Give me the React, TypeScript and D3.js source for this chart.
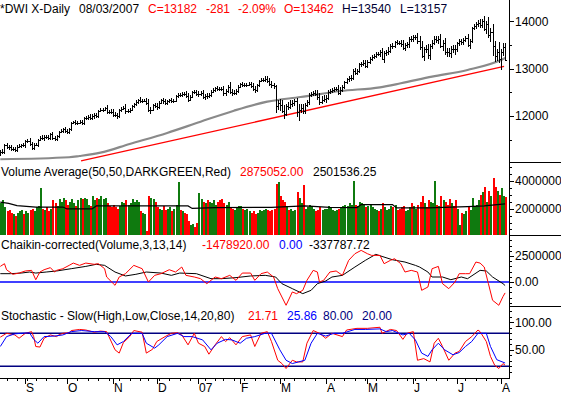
import React from 'react';
import * as d3 from 'd3';

// trading calendar (Aug 16 2006 .. Aug 3 2007)
const startDate = '2006-08-16';
const endDate = '2007-08-03';
const holidays = ['2006-09-04', '2006-11-23', '2006-12-25', '2007-01-01', '2007-01-02',
  '2007-01-15', '2007-02-19', '2007-04-06', '2007-05-28', '2007-07-04'];
const monthLabels = ['S', 'O', 'N', 'D', '07', 'F', 'M', 'A', 'M', 'J', 'J', 'A'];

// daily closes
const closes = [
  11230, 11237, 11382, 11345, 11339, 11297, 11303, 11284, 11352, 11370, 11382, 11381,
  11464, 11469, 11406, 11331, 11392, 11396, 11498, 11543, 11527, 11560, 11555, 11541, 11613, 11533, 11508, 11576, 11669, 11689, 11718, 11679,
  11670, 11727, 11850, 11866, 11850, 11858, 11867, 11852, 11947, 11960, 11981, 11950, 11992, 12011, 12002, 12116, 12127, 12134, 12163, 12090, 12086, 12081,
  12031, 12018, 12001, 12120, 12152, 12176, 12103, 12108, 12131, 12218, 12251, 12305, 12342, 12316, 12321, 12326, 12280, 12121, 12136, 12227, 12221,
  12194, 12283, 12331, 12309, 12278, 12307, 12329, 12315, 12318, 12416, 12446, 12441, 12471, 12463, 12421, 12343, 12407, 12510, 12501, 12463,
  12474, 12481, 12398, 12423, 12416, 12442, 12514, 12556, 12582, 12577, 12567, 12565, 12477, 12533, 12621, 12502, 12487, 12490, 12523, 12622,
  12673, 12653, 12661, 12666, 12667, 12637, 12580, 12552, 12654, 12741, 12765, 12767, 12786, 12738, 12686, 12647, 12632, 12216, 12268,
  12234, 12114, 12050, 12207, 12192, 12260, 12276, 12318, 12075, 12133, 12159, 12110, 12226, 12288, 12447, 12461, 12481, 12469, 12397, 12300, 12348, 12354,
  12383, 12511, 12531, 12560, 12569, 12573, 12484, 12553, 12612, 12720, 12773, 12803, 12808, 12961, 12919, 12953, 13090, 13105, 13120, 13063,
  13136, 13212, 13241, 13265, 13312, 13309, 13362, 13215, 13327, 13346, 13383, 13487, 13476, 13556, 13542, 13539, 13522, 13441, 13507, 13521, 13633, 13628,
  13668, 13677, 13596, 13467, 13267, 13425, 13424, 13295, 13483, 13553, 13639, 13612, 13635, 13489, 13545, 13360, 13352, 13337, 13427, 13422, 13409,
  13535, 13577, 13565, 13611, 13650, 13502, 13577, 13862, 13908, 13951, 13972, 13918, 14000, 13851, 13943, 13716, 13785, 13473, 13265, 13358, 13212,
  13362, 13463, 13182,
];
const firstOpen = 11200;

// how far the high / low reach past the open-close body
const wickUp = [
  45, 60, 30, 50, 40, 55, 35, 40, 30, 45, 35, 50,
  30, 45, 55, 50, 35, 40, 25, 35, 50, 30, 45, 40, 30, 55, 45, 25, 20, 35, 30, 50,
  40, 25, 20, 35, 45, 30, 40, 50, 25, 30, 35, 60, 40, 45, 50, 20, 35, 30, 25, 60, 45, 55,
  60, 50, 55, 30, 35, 40, 70, 45, 40, 25, 30, 35, 25, 50, 40, 35, 45, 80, 60, 35, 45,
  55, 30, 35, 45, 50, 35, 40, 45, 50, 25, 40, 50, 35, 45, 60, 70, 40, 25, 45, 55,
  60, 45, 70, 45, 55, 40, 30, 35, 40, 50, 45, 55, 70, 40, 35, 95, 60, 50, 45, 30,
  35, 45, 40, 35, 45, 55, 60, 50, 30, 30, 45, 40, 50, 60, 70, 55, 45, 20, 70,
  90, 110, 120, 40, 80, 70, 60, 50, 60, 120, 90, 100, 50, 60, 40, 50, 45, 60, 80, 90, 70, 80,
  60, 30, 45, 40, 50, 45, 80, 50, 40, 30, 40, 45, 55, 30, 60, 50, 40, 45, 55, 70,
  40, 35, 40, 45, 35, 50, 40, 80, 50, 60, 70, 40, 55, 35, 60, 55, 70, 80, 40, 50, 35, 60,
  50, 45, 70, 90, 120, 40, 70, 110, 40, 45, 50, 60, 50, 90, 60, 110, 80, 90, 50, 70, 80,
  40, 45, 50, 40, 45, 90, 60, 30, 40, 45, 50, 80, 50, 120, 60, 150, 70, 160, 120, 60, 210,
  60, 80, 78,
];
const wickDown = [
  40, 35, 50, 45, 55, 40, 35, 50, 45, 30, 40, 45,
  50, 40, 35, 45, 50, 35, 45, 30, 40, 50, 35, 45, 50, 40, 35, 45, 50, 30, 40, 35,
  45, 50, 35, 30, 40, 45, 35, 40, 50, 30, 45, 40, 35, 50, 45, 40, 30, 45, 35, 50, 40, 45,
  50, 45, 60, 35, 40, 30, 55, 45, 50, 35, 40, 30, 45, 35, 40, 35, 40, 30, 75, 40, 50,
  60, 40, 35, 45, 40, 50, 35, 45, 40, 30, 35, 45, 40, 35, 50, 45, 30, 35, 40, 45,
  70, 50, 45, 60, 50, 40, 35, 30, 45, 50, 40, 35, 50, 55, 40, 35, 60, 50, 45, 40,
  40, 45, 35, 40, 30, 45, 50, 60, 40, 35, 30, 45, 40, 45, 50, 55, 60, 160, 90,
  120, 60, 110, 60, 70, 50, 80, 60, 90, 190, 80, 70, 60, 45, 50, 55, 40, 50, 60, 70, 55, 60,
  80, 40, 50, 45, 55, 50, 40, 45, 50, 35, 40, 45, 55, 40, 50, 60, 35, 45, 40, 50,
  45, 40, 50, 35, 40, 45, 50, 40, 90, 60, 50, 45, 60, 40, 50, 45, 55, 50, 70, 60, 80, 55,
  70, 60, 80, 70, 40, 110, 90, 80, 100, 70, 60, 70, 80, 50, 120, 60, 110, 90, 100, 80, 110,
  60, 50, 60, 70, 55, 50, 80, 40, 50, 60, 70, 60, 60, 50, 110, 70, 140, 210, 120, 100, 80,
  230, 90, 25,
];

// daily volume, millions
const volumes = [
  2.4, 2.6, 2.1, 1.8, 1.9, 1.7, 1.6, 1.5, 1.7, 1.8, 1.9, 1.6,
  1.8, 1.7, 1.9, 2.0, 1.8, 2.1, 2.2, 3.5, 2.0, 1.9, 2.1, 1.8, 2.0, 2.6, 2.4, 2.2, 2.7, 2.5, 2.8, 2.6,
  2.3, 2.5, 2.7, 2.4, 2.2, 2.6, 2.8, 2.7, 2.8, 2.7, 2.3, 2.2, 2.9, 2.6, 2.8, 2.7, 2.9, 2.7, 2.8, 2.4, 2.2, 2.1,
  2.3, 2.1, 2.0, 2.2, 2.5, 2.4, 2.6, 2.3, 2.4, 2.7, 2.5, 2.6, 2.5, 1.8, 1.7, 1.6, 0.4, 2.9, 2.8, 2.7, 2.5,
  2.1, 2.0, 1.9, 2.2, 1.9, 2.0, 2.1, 1.8, 2.0, 2.3, 3.9, 1.9, 1.8, 1.7, 1.6, 1.1, 0.8, 0.9, 0.7, 1.0,
  3.1, 2.7, 2.5, 2.4, 2.6, 2.5, 2.4, 2.6, 2.3, 2.5, 2.6, 2.7, 2.4, 2.3, 2.5, 2.1, 2.0, 1.9, 2.1, 2.2,
  2.2, 2.0, 1.9, 2.0, 1.8, 1.7, 1.8, 1.6, 1.7, 1.9, 1.8, 1.9, 2.0, 1.9, 1.8, 1.9, 2.0, 3.8, 3.9,
  2.9, 2.6, 2.5, 2.2, 1.9, 2.0, 1.8, 1.9, 3.2, 2.8, 2.4, 3.7, 2.0, 2.1, 2.3, 2.2, 2.0, 1.8, 1.9, 2.1, 1.9, 2.0,
  2.0, 2.2, 2.1, 1.9, 1.8, 1.9, 2.0, 2.1, 2.2, 2.3, 2.2, 2.4, 2.3, 4.0, 2.3, 2.2, 2.5, 2.4, 2.3, 2.1,
  2.2, 2.3, 2.1, 2.0, 1.9, 1.8, 2.0, 2.4, 2.1, 1.9, 2.0, 2.2, 2.1, 2.3, 1.9, 2.0, 2.1, 2.2, 1.8, 1.9, 2.1, 2.4,
  2.2, 2.0, 2.3, 2.5, 2.9, 2.4, 2.1, 2.6, 2.5, 2.4, 4.0, 2.3, 2.2, 2.9, 2.6, 2.5, 2.3, 2.7, 2.4, 2.2, 2.6,
  2.0, 0.8, 1.7, 1.6, 1.8, 2.2, 1.9, 2.8, 2.2, 2.3, 2.6, 3.0, 3.2, 3.6, 2.5, 3.3, 2.9, 4.2, 3.6, 3.3, 3.0,
  3.5, 2.9, 2.875,
];

// [day index, value]
const movingAvg: [number, number][] = [[0, 11084], [33, 11126], [38, 11153], [48, 11223], [62, 11407], [80, 11640],
  [96, 11879], [112, 12112], [128, 12303], [144, 12402], [163, 12529], [182, 12607], [192, 12692], [207, 12832],
  [224, 12974], [240, 13185], [242, 13228]];
const trendLine: [number, number][] = [[38.7, 11048], [241.5, 13052]];
const volAvg: [number, number][] = [[0, 2.48], [4, 2.38], [8, 2.22], [17, 2.12], [30, 2.12], [32, 1.98], [44, 1.98],
  [46, 2.2], [68, 2.2], [90, 2.2], [92, 2.02], [103, 2.08], [130, 2.1], [146, 2.2], [158, 2.1], [171, 2.08],
  [173, 2.3], [188, 2.3], [190, 2.06], [205, 2.06], [224, 2.15], [232, 2.2], [242, 2.35]];

// Chaikin, millions
const chaikinOsc: [number, number][] = [[0, 1.5], [2, 1.76], [3, 1.18], [6, 0.74], [9, 0.86], [12, 1.06], [15, 1.12],
  [17, 0.22], [19, 0.96], [21, 1.18], [24, 1.38], [26, 0.96], [27, 1.12], [30, 1.28], [33, 1.6], [35, 1.82],
  [38, 1.6], [41, 1.82], [45, 1.7], [47, 1.76], [50, 1.28], [51, 0.48], [55, -0.32], [57, 0.48], [60, 0.8],
  [64, 1.6], [68, 1.28], [71, 0], [74, 0.64], [77, 0.8], [81, 1.18], [84, 0.96], [87, 1.44], [89, 0.64],
  [93, 0.48], [96, 0.32], [99, -0.16], [103, 0.48], [106, 0.32], [110, 0.64], [113, 0.16], [116, 0.86],
  [120, 0.86], [122, 0.16], [125, 0.8], [128, 0.96], [131, 0.48], [133, -0.64], [135, -1.44], [137, -2.24],
  [140, -0.96], [142, -1.12], [145, -0.8], [147, 0.16], [150, 1.12], [152, 0.96], [153, 0], [155, 0.16],
  [158, 0.96], [161, 1.06], [164, 0.64], [167, 2.08], [170, 2.72], [173, 3.04], [176, 2.72], [178, 2.56],
  [182, 2.56], [184, 1.76], [187, 2.08], [189, 2.24], [192, 1.76], [194, 0.96], [197, 1.12], [200, 0.96],
  [202, -0.8], [205, -0.48], [207, 1.28], [210, 1.5], [212, -0.16], [215, -0.64], [218, 0], [220, 0.8],
  [223, 0.8], [225, 0.8], [228, 1.92], [230, 1.82], [232, 1.44], [234, -0.16], [236, -1.76], [239, -2.24],
  [241, -1.4], [242, -1.05]];
const chaikinSignal: [number, number][] = [[0, 0.8], [5, 0.8], [10, 0.86], [14, 0.96], [17, 0.86], [22, 0.96],
  [27, 1.06], [34, 1.28], [41, 1.5], [46, 1.7], [50, 1.6], [55, 0.96], [60, 0.58], [65, 0.74], [70, 0.96],
  [77, 0.86], [82, 0.64], [86, 0.86], [94, 0.8], [101, 0.32], [106, 0.32], [113, 0.42], [120, 0.58],
  [127, 0.64], [132, 0.48], [135, -0.16], [140, -0.64], [145, -1.12], [149, -0.8], [152, -0.16], [156, 0.1],
  [159, 0.48], [164, 0.64], [170, 1.44], [175, 2.08], [180, 2.66], [183, 2.46], [188, 2.14], [194, 1.92],
  [199, 1.6], [201, 1.44], [205, 0.96], [207, 0.48], [212, 0.48], [216, 0.22], [221, 0.48], [224, 0.32],
  [230, 1.12], [233, 1.06], [236, 0.48], [241, -0.16], [242, -0.34]];

// Stochastic slow
const stochK: [number, number][] = [[0, 73], [3, 80], [7, 77], [9, 71], [12, 80], [15, 83], [16, 74], [17, 56],
  [19, 55], [21, 71], [24, 77], [27, 74], [28, 77], [30, 80], [33, 81], [34, 85], [38, 87], [41, 86], [45, 82],
  [48, 84], [51, 83], [55, 50], [57, 44], [59, 63], [62, 74], [64, 85], [68, 82], [70, 44], [73, 51], [75, 65],
  [79, 74], [82, 80], [85, 81], [87, 77], [90, 59], [93, 80], [95, 62], [98, 56], [100, 42], [103, 59],
  [106, 74], [108, 65], [110, 72], [113, 59], [116, 74], [120, 77], [122, 56], [125, 80], [128, 83], [130, 65],
  [133, 31], [135, 25], [137, 16], [140, 31], [142, 28], [145, 28], [147, 62], [150, 85], [153, 80], [156, 71],
  [159, 80], [164, 74], [166, 86], [171, 89], [176, 89], [182, 91], [183, 80], [187, 87], [190, 85], [193, 69],
  [195, 80], [198, 83], [200, 31], [203, 34], [206, 28], [208, 62], [210, 71], [212, 56], [215, 31], [218, 44],
  [220, 47], [223, 65], [226, 74], [229, 86], [230, 83], [233, 65], [235, 38], [237, 22], [239, 16], [241, 25],
  [242, 22]];
const stochD: [number, number][] = [[0, 56], [3, 74], [7, 79], [10, 80], [14, 81], [16, 69], [18, 62], [21, 74],
  [26, 75], [30, 77], [34, 83], [39, 85], [45, 83], [50, 83], [53, 74], [56, 59], [59, 65], [63, 80], [68, 80],
  [70, 62], [74, 53], [76, 59], [80, 74], [85, 80], [88, 74], [92, 74], [97, 68], [101, 50], [104, 62],
  [108, 69], [111, 68], [115, 62], [118, 71], [122, 74], [127, 80], [130, 80], [134, 50], [137, 31], [140, 25],
  [143, 28], [146, 31], [149, 62], [152, 80], [156, 75], [160, 80], [164, 80], [170, 87], [175, 87], [182, 88],
  [185, 83], [188, 85], [193, 77], [196, 80], [199, 68], [202, 44], [205, 38], [207, 50], [210, 62], [213, 50],
  [217, 41], [220, 45], [223, 56], [226, 65], [229, 80], [233, 80], [235, 56], [238, 32], [242, 26]];
const stochLevels = [80, 20];

// axis ticks
const priceMajor = [12000, 13000, 14000];
const priceMinor = [11500, 12500, 13500];
const volMajor = [2, 4];
const volMinor = [0.5, 1, 1.5, 2.5, 3, 3.5, 4.5, 5];
const chkMajor = [0, 2.5];
const chkMinor = [-2, -1.5, -1, -0.5, 0.5, 1, 1.5, 2, 3, 3.5, 4];
const stMajor = [50, 100];
const stMinor = [10, 20, 30, 40, 60, 70, 80, 90, 110, 120];

const RED = '#ff0000';
const GREEN = '#0f7a0f';
const NAVY = '#000080';
const BLUE = '#0000ff';
const FONT = '"Liberation Sans", Arial, sans-serif';

const headerItems = [
  { t: '*DWI X-Daily', x: 0, c: '#000' },
  { t: '08/03/2007', x: 79, c: '#000' },
  { t: 'C=13182', x: 148, c: RED },
  { t: '-281', x: 206, c: RED },
  { t: '-2.09%', x: 238, c: RED },
  { t: 'O=13462', x: 284, c: RED },
  { t: 'H=13540', x: 342, c: '#000033' },
  { t: 'L=13157', x: 400, c: '#000033' },
];
const volTitle = [
  { t: 'Volume Average(50,50,DARKGREEN,Red)', x: 1, c: '#000' },
  { t: '2875052.00', x: 240, c: RED },
  { t: '2501536.25', x: 313, c: '#000' },
];
const chkTitle = [
  { t: 'Chaikin-corrected(Volume,3,13,14)', x: 1, c: '#000' },
  { t: '-1478920.00', x: 202, c: RED },
  { t: '0.00', x: 279, c: BLUE },
  { t: '-337787.72', x: 309, c: '#000' },
];
const stTitle = [
  { t: 'Stochastic - Slow(High,Low,Close,14,20,80)', x: 1, c: '#000' },
  { t: '21.71', x: 248, c: RED },
  { t: '25.86', x: 287, c: BLUE },
  { t: '80.00', x: 323, c: NAVY },
  { t: '20.00', x: 362, c: NAVY },
];

function tradingDays(): Date[] {
  const out: Date[] = [];
  let d = new Date(startDate + 'T00:00:00Z');
  const end = new Date(endDate + 'T00:00:00Z');
  while (d <= end) {
    const wd = d.getUTCDay();
    const iso = d.toISOString().slice(0, 10);
    if (wd !== 0 && wd !== 6 && !holidays.includes(iso)) out.push(new Date(d));
    d = new Date(d.getTime() + 86400000);
  }
  return out;
}

const AXIS_X = 509;
const BOTTOM = 378;

export default function App() {
  const days = tradingDays();
  const n = closes.length;

  const x = d3.scaleLinear().domain([0, n - 1]).range([0.3, 505.1]);
  const yP = d3.scaleLinear().domain([11026, 14455]).range([162, 0]);
  const yV = d3.scaleLinear().domain([0, 5.37]).range([236.4, 162]);
  const yC = d3.scaleLinear().domain([0, 2.5]).range([282, 256]);
  const yS = d3.scaleLinear().domain([0, 100]).range([377.3, 322.3]);

  const monthTicks: number[] = [];
  const weekTicks: number[] = [];
  for (let i = 1; i < days.length; i++) {
    if (days[i].getUTCMonth() !== days[i - 1].getUTCMonth()) monthTicks.push(i);
    if (days[i].getUTCDay() < days[i - 1].getUTCDay()) weekTicks.push(i);
  }

  const bars = closes.map((c, i) => {
    const o = i === 0 ? firstOpen : closes[i - 1];
    return {
      i, o, c,
      h: Math.max(o, c) + wickUp[i],
      l: Math.min(o, c) - wickDown[i],
      v: volumes[i],
      up: c >= o,
    };
  });

  const mk = (ys: d3.ScaleLinear<number, number>, curve = d3.curveLinear) =>
    d3.line<[number, number]>().x(d => x(d[0])).y(d => ys(d[1])).curve(curve);

  const px = (i: number) => Math.round(x(i)) + 0.5;

  const rightTicks = (ys: d3.ScaleLinear<number, number>, major: number[], minor: number[], fmt: (v: number) => string, key: string) => (
    <g key={key}>
      {minor.map(v => (
        <line key={'m' + v} x1={AXIS_X} x2={AXIS_X + 3} y1={Math.round(ys(v)) + 0.5} y2={Math.round(ys(v)) + 0.5} stroke="#000" />
      ))}
      {major.map(v => (
        <g key={'M' + v}>
          <line x1={AXIS_X} x2={AXIS_X + 5} y1={Math.round(ys(v)) + 0.5} y2={Math.round(ys(v)) + 0.5} stroke="#000" />
          <text x={AXIS_X + 6} y={ys(v)} dy="0.36em" fill="#000">{fmt(v)}</text>
        </g>
      ))}
    </g>
  );

  const titleRow = (items: { t: string; x: number; c: string }[], y: number, key: string) => (
    <g key={key}>
      {items.map(it => (
        <text key={it.t + it.x} x={it.x} y={y} fill={it.c}>{it.t}</text>
      ))}
    </g>
  );

  return (
    <svg width={561} height={395} style={{ position: 'absolute', left: 0, top: 0, background: '#fff' }}
      fontFamily={FONT} fontSize={12}>
      <rect x={0} y={0} width={561} height={395} fill="#fff" />

      {/* price panel */}
      <path d={mk(yP, d3.curveMonotoneX)(movingAvg) || ''} fill="none" stroke="#8a8a8a" strokeWidth={2.2} />
      <path d={mk(yP)(trendLine) || ''} fill="none" stroke={RED} strokeWidth={1.3} />
      <g stroke="#000" strokeWidth={1} shapeRendering="crispEdges">
        {bars.map(b => {
          const xx = px(b.i);
          return (
            <g key={b.i}>
              <line x1={xx} x2={xx} y1={yP(b.h)} y2={yP(b.l)} />
              <line x1={xx - 1.5} x2={xx} y1={Math.round(yP(b.o)) + 0.5} y2={Math.round(yP(b.o)) + 0.5} />
              <line x1={xx} x2={xx + 1.5} y1={Math.round(yP(b.c)) + 0.5} y2={Math.round(yP(b.c)) + 0.5} />
            </g>
          );
        })}
      </g>

      {/* volume panel */}
      <g shapeRendering="crispEdges">
        {bars.map(b => (
          <rect key={b.i} x={Math.round(x(b.i)) - 0.5} width={2} y={yV(b.v)} height={yV(0) - 1.4 - yV(b.v)}
            fill={b.up ? GREEN : RED} />
        ))}
      </g>
      <path d={mk(yV)(volAvg) || ''} fill="none" stroke="#000" strokeWidth={1.2} />

      {/* chaikin panel */}
      <line x1={0} x2={AXIS_X} y1={yC(0)} y2={yC(0)} stroke={BLUE} strokeWidth={1.4} />
      <path d={mk(yC)(chaikinSignal) || ''} fill="none" stroke="#000" strokeWidth={1} />
      <path d={mk(yC)(chaikinOsc) || ''} fill="none" stroke={RED} strokeWidth={1} />

      {/* stochastic panel */}
      {stochLevels.map(v => (
        <line key={v} x1={0} x2={AXIS_X} y1={yS(v)} y2={yS(v)} stroke={NAVY} strokeWidth={1.4} />
      ))}
      <path d={mk(yS)(stochK) || ''} fill="none" stroke={RED} strokeWidth={1} />
      <path d={mk(yS)(stochD) || ''} fill="none" stroke={BLUE} strokeWidth={1} />

      {/* titles */}
      {titleRow(headerItems, 13, 'h')}
      {titleRow(volTitle, 176, 'v')}
      {titleRow(chkTitle, 248.5, 'c')}
      {titleRow(stTitle, 320, 's')}

      {/* frame */}
      <g stroke="#000" strokeWidth={1} shapeRendering="crispEdges">
        <line x1={AXIS_X + 0.5} x2={AXIS_X + 0.5} y1={0} y2={BOTTOM + 1} />
        <line x1={0} x2={AXIS_X + 1} y1={BOTTOM + 0.5} y2={BOTTOM + 0.5} />
        {[162, 235, 306].map(y => (
          <line key={y} x1={AXIS_X} x2={561} y1={y + 0.5} y2={y + 0.5} />
        ))}
        {weekTicks.map(i => (
          <line key={'w' + i} x1={px(i)} x2={px(i)} y1={BOTTOM} y2={BOTTOM + 3} />
        ))}
        {monthTicks.map(i => (
          <line key={'mt' + i} x1={px(i)} x2={px(i)} y1={BOTTOM} y2={BOTTOM + 6} />
        ))}
      </g>
      {monthTicks.map((i, k) => (
        <text key={'ml' + i} x={px(i) + 0.5} y={392} fill="#000">{monthLabels[k]}</text>
      ))}

      {/* right axes */}
      {rightTicks(yP, priceMajor, priceMinor, v => String(v), 'p')}
      {rightTicks(yV, volMajor, volMinor, v => String(v * 1e6), 'vol')}
      {rightTicks(yC, chkMajor, chkMinor, v => (v === 0 ? '0.00' : String(v * 1e6)), 'chk')}
      {rightTicks(yS, stMajor, stMinor, v => v.toFixed(2), 'st')}
    </svg>
  );
}
